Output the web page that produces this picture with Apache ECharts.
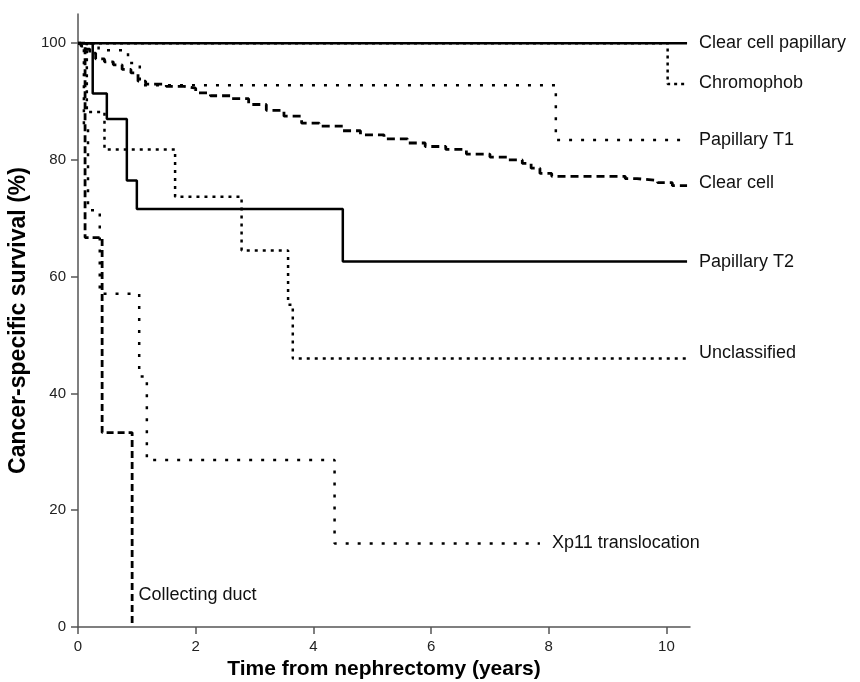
<!DOCTYPE html>
<html>
<head>
<meta charset="utf-8">
<script src="https://cdn.jsdelivr.net/npm/echarts@6/dist/echarts.min.js"></script>
<style>
  html, body { margin: 0; padding: 0; background: #fff; }
  #chart { width: 860px; height: 682px; }
</style>
</head>
<body>
<div id="chart"></div>
<script>
// Kaplan-Meier step points: time (years) and survival (%) after each drop
const ccpTime = [0, 10.35]
const ccpSurv = [100, 100]

const chromoTime = [0, 10.02, 10.35]
const chromoSurv = [100, 93.0, 93.0]

const pt1Time = [0, 0.35, 0.85, 1.05, 8.12, 10.35]
const pt1Surv = [100, 98.8, 96.6, 92.8, 83.4, 83.4]

const ccTime = [0, 0.05, 0.12, 0.2, 0.3, 0.45, 0.6, 0.75, 0.9, 1.02, 1.15, 1.5, 1.8, 2.0, 2.25, 2.6, 2.9, 3.2, 3.5, 3.8, 4.1, 4.5, 4.8, 5.2, 5.6, 5.9, 6.25, 6.6, 7.0, 7.3, 7.55, 7.7, 7.85, 8.05, 9.3, 9.5, 9.85, 10.1, 10.35]
const ccSurv = [100, 99.5, 99.0, 98.3, 97.3, 96.8, 96.3, 95.5, 94.9, 93.5, 93.0, 92.6, 92.3, 91.5, 91.0, 90.5, 89.5, 88.5, 87.5, 86.3, 85.8, 85.0, 84.3, 83.6, 82.9, 82.3, 81.8, 81.0, 80.5, 80.0, 79.4, 78.6, 77.7, 77.2, 76.8, 76.5, 76.1, 75.6, 75.6]

const pt2Time = [0, 0.25, 0.49, 0.83, 1.0, 4.5, 10.35]
const pt2Surv = [100, 91.4, 87.0, 76.5, 71.6, 62.6, 62.6]

const unclTime = [0, 0.15, 0.45, 1.65, 2.78, 3.57, 3.65, 10.35]
const unclSurv = [100, 88.2, 81.8, 73.7, 64.5, 55.2, 46.0, 46.0]

const xpTime = [0, 0.1, 0.17, 0.37, 1.04, 1.17, 4.36, 7.85]
const xpSurv = [100, 85.7, 71.4, 57.1, 42.9, 28.6, 14.3, 14.3]

const cdTime = [0, 0.12, 0.41, 0.92]
const cdSurv = [100, 66.7, 33.3, 0]

const xTicks = [0, 2, 4, 6, 8, 10]
const yTicks = [0, 20, 40, 60, 80, 100]

const zip = (t, s) => t.map((v, i) => [v, s[i]])

const chart = echarts.init(document.getElementById('chart'))

const FONT = 'Liberation Sans, Arial, sans-serif'
const labelFont = { fontFamily: FONT, fontSize: 18, color: '#111' }

function kmSeries(name, t, s, dash, width, labelOffset, z) {
  return {
    name: name,
    type: 'line',
    step: 'end',
    data: zip(t, s),
    symbol: 'none',
    z: z || 2,
    lineStyle: { color: '#000', width: width, type: dash, cap: 'butt' },
    endLabel: labelOffset ? { show: true, formatter: name, distance: 12, offset: labelOffset, ...labelFont } : { show: false },
    silent: true,
    animation: false
  }
}

const series = [
  kmSeries('Chromophob', chromoTime, chromoSurv, [3, 4], 2.5, [0, -1]),
  kmSeries('Papillary T1', pt1Time, pt1Surv, [3, 9], 2.5, [0, 0]),
  kmSeries('Clear cell', ccTime, ccSurv, [8, 5], 2.8, [0, -3]),
  kmSeries('Unclassified', unclTime, unclSurv, [3, 5], 2.5, [0, -5]),
  kmSeries('Xp11 translocation', xpTime, xpSurv, [3, 9], 2.5, [0, 0]),
  kmSeries('Collecting duct', cdTime, cdSurv, [7, 4], 2.8, null),
  kmSeries('Papillary T2', pt2Time, pt2Surv, 'solid', 2.5, [0, 0], 3),
  kmSeries('Clear cell papillary', ccpTime, ccpSurv, 'solid', 2.5, [0, 0], 3)
]

// label for collecting duct sits beside its last drop
series[5].markPoint = {
  symbol: 'circle',
  symbolSize: 1,
  itemStyle: { color: 'rgba(0,0,0,0)' },
  silent: true,
  data: [{ coord: [0.95, 5.5], value: 1 }],
  label: { show: true, position: 'right', distance: 4, formatter: 'Collecting duct', ...labelFont }
}

chart.setOption({
  animation: false,
  grid: { left: 78, right: 170, top: 14, bottom: 55, containLabel: false, outerBoundsMode: 'none' },
  xAxis: {
    type: 'value',
    min: 0,
    max: 10.4,
    interval: 2,
    name: 'Time from nephrectomy (years)',
    nameLocation: 'middle',
    nameGap: 30,
    nameTextStyle: { fontFamily: FONT, fontWeight: 'bold', fontSize: 21, color: '#000' },
    axisLine: { onZero: false, lineStyle: { color: '#555', width: 1.5 } },
    axisTick: { show: true, length: 7, customValues: xTicks, lineStyle: { color: '#555', width: 1.5 } },
    axisLabel: { fontFamily: FONT, fontSize: 15, color: '#222', margin: 12, customValues: xTicks },
    splitLine: { show: false }
  },
  yAxis: {
    type: 'value',
    min: 0,
    max: 105,
    interval: 20,
    name: 'Cancer-specific survival (%)',
    nameLocation: 'middle',
    nameGap: 44,
    nameTextStyle: { fontFamily: FONT, fontWeight: 'bold', fontSize: 23, color: '#000' },
    axisLine: { show: true, lineStyle: { color: '#555', width: 1.5 } },
    axisTick: { show: true, length: 7, customValues: yTicks, lineStyle: { color: '#555', width: 1.5 } },
    axisLabel: { fontFamily: FONT, fontSize: 15, color: '#222', margin: 12, customValues: yTicks },
    splitLine: { show: false }
  },
  series: series
})
</script>
</body>
</html>
